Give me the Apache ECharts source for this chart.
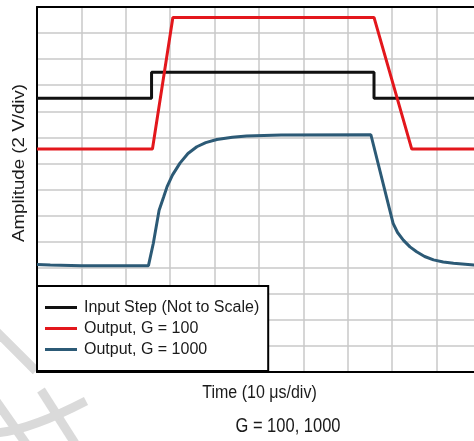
<!DOCTYPE html>
<html>
<head>
<meta charset="utf-8">
<script src="https://cdn.jsdelivr.net/npm/echarts@6/dist/echarts.min.js"></script>
<style>
  html, body { margin: 0; padding: 0; background: #fff; }
  #chart { width: 474px; height: 441px; }
</style>
</head>
<body>
<div id="chart"></div>
<script>
// Amplifier step response, in scope divisions (x: 10 µs/div, y: 2 V/div)
const seriesNames = ['Input Step (Not to Scale)', 'Output, G = 100', 'Output, G = 1000'];

const inputStep = [
  [0, 10.5], [2.58, 10.5], [2.58, 11.5], [7.59, 11.5], [7.59, 10.5], [10, 10.5]
];

const outputG100 = [
  [0, 8.55], [2.6, 8.55], [3.06, 13.6], [7.59, 13.6], [8.44, 8.55], [10, 8.55]
];

const outputG1000 = [
  [0, 4.12], [0.3, 4.1], [1.0, 4.08], [2.51, 4.08], [2.62, 4.94], [2.75, 6.2],
  [2.85, 6.7], [2.93, 7.11], [3.05, 7.55], [3.22, 8.01], [3.4, 8.38], [3.6, 8.64],
  [3.8, 8.8], [4.05, 8.92], [4.4, 9.0], [4.72, 9.05], [5.5, 9.09], [7.52, 9.1],
  [8.02, 5.7], [8.12, 5.35], [8.25, 5.06], [8.4, 4.8], [8.55, 4.61], [8.73, 4.43],
  [8.93, 4.3], [9.15, 4.22], [9.38, 4.17], [9.84, 4.1], [10, 4.09]
];

const colors = ['#111111', '#e3171c', '#2c5a76'];

// the screen shows the first 9.84 of 10 horizontal divisions
const xVisible = 9.842;
const yDivisions = 14;

const chart = echarts.init(document.getElementById('chart'), null, { renderer: 'canvas' });

const fontFamily = 'Liberation Sans, Arial, sans-serif';
const gray = '#dadada';
const gridLine = { show: true, showMaxLine: false, lineStyle: { color: '#c9c9c9', width: 1.5 } };
const frame = { show: true, onZero: false, lineStyle: { color: '#000', width: 2 } };
const hidden = { show: false };

chart.setOption({
  animation: false,
  backgroundColor: '#ffffff',
  grid: { left: 37, top: 7, right: 0, bottom: 69 },
  xAxis: [
    {
      type: 'value', min: 0, max: xVisible, interval: 1, position: 'bottom',
      axisLine: frame, axisTick: hidden, axisLabel: hidden, splitLine: gridLine, z: 3
    },
    {
      type: 'value', min: 0, max: xVisible, interval: 1, position: 'top',
      axisLine: frame, axisTick: hidden, axisLabel: hidden, splitLine: hidden, z: 3
    }
  ],
  yAxis: {
    type: 'value', min: 0, max: yDivisions, interval: 1,
    axisLine: frame, axisTick: hidden, axisLabel: hidden,
    splitLine: { show: true, lineStyle: { color: '#c9c9c9', width: 1.5 } }, z: 3
  },
  legend: {
    orient: 'vertical',
    left: 37, top: 286,
    backgroundColor: '#ffffff',
    borderColor: '#000', borderWidth: 2, borderRadius: 0,
    padding: [11, 9, 11, 8],
    itemGap: 0,
    itemWidth: 32, itemHeight: 3,
    icon: 'rect',
    textStyle: { fontFamily, fontSize: 16, color: '#1a1a1a', lineHeight: 21, padding: [0, 0, 0, 2] },
    data: seriesNames,
    z: 10
  },
  series: [
    {
      name: seriesNames[0], type: 'line', data: inputStep, symbol: 'none',
      lineStyle: { color: colors[0], width: 3 }, itemStyle: { color: colors[0] }, z: 4
    },
    {
      name: seriesNames[1], type: 'line', data: outputG100, symbol: 'none',
      lineStyle: { color: colors[1], width: 3 }, itemStyle: { color: colors[1] }, z: 5
    },
    {
      name: seriesNames[2], type: 'line', data: outputG1000, symbol: 'none',
      lineStyle: { color: colors[2], width: 3 }, itemStyle: { color: colors[2] }, z: 6
    }
  ],
  graphic: [
    // axis titles
    {
      type: 'text', x: 20, y: 163, rotation: Math.PI / 2, scaleX: 1.17,
      style: { text: 'Amplitude (2 V/div)', font: '16px ' + fontFamily, fill: '#1a1a1a', align: 'center', verticalAlign: 'middle' },
      z: 20
    },
    {
      type: 'text', x: 259.5, y: 393, scaleY: 1.17,
      style: { text: 'Time (10 μs/div)', font: '16px ' + fontFamily, fill: '#1a1a1a', align: 'center', verticalAlign: 'middle' },
      z: 20
    },
    {
      type: 'text', x: 288, y: 427, scaleY: 1.17,
      style: { text: 'G = 100, 1000', font: '16.5px ' + fontFamily, fill: '#1a1a1a', align: 'center', verticalAlign: 'middle' },
      z: 20
    },
    // light grey stamp strokes in the lower-left corner
    { type: 'line', shape: { x1: -4, y1: 331, x2: 36, y2: 371 }, style: { stroke: gray, lineWidth: 9 }, z: 1 },
    { type: 'line', shape: { x1: 41, y1: 390, x2: 76, y2: 445 }, style: { stroke: gray, lineWidth: 9 }, z: 1 },
    { type: 'line', shape: { x1: -4, y1: 401, x2: 27, y2: 445 }, style: { stroke: gray, lineWidth: 9 }, z: 1 },
    { type: 'bezierCurve', shape: { x1: -4, y1: 433, cpx1: 30, cpy1: 430, x2: 86, y2: 401 }, style: { stroke: gray, lineWidth: 9, fill: 'none' }, z: 1 }
  ]
});
</script>
</body>
</html>
